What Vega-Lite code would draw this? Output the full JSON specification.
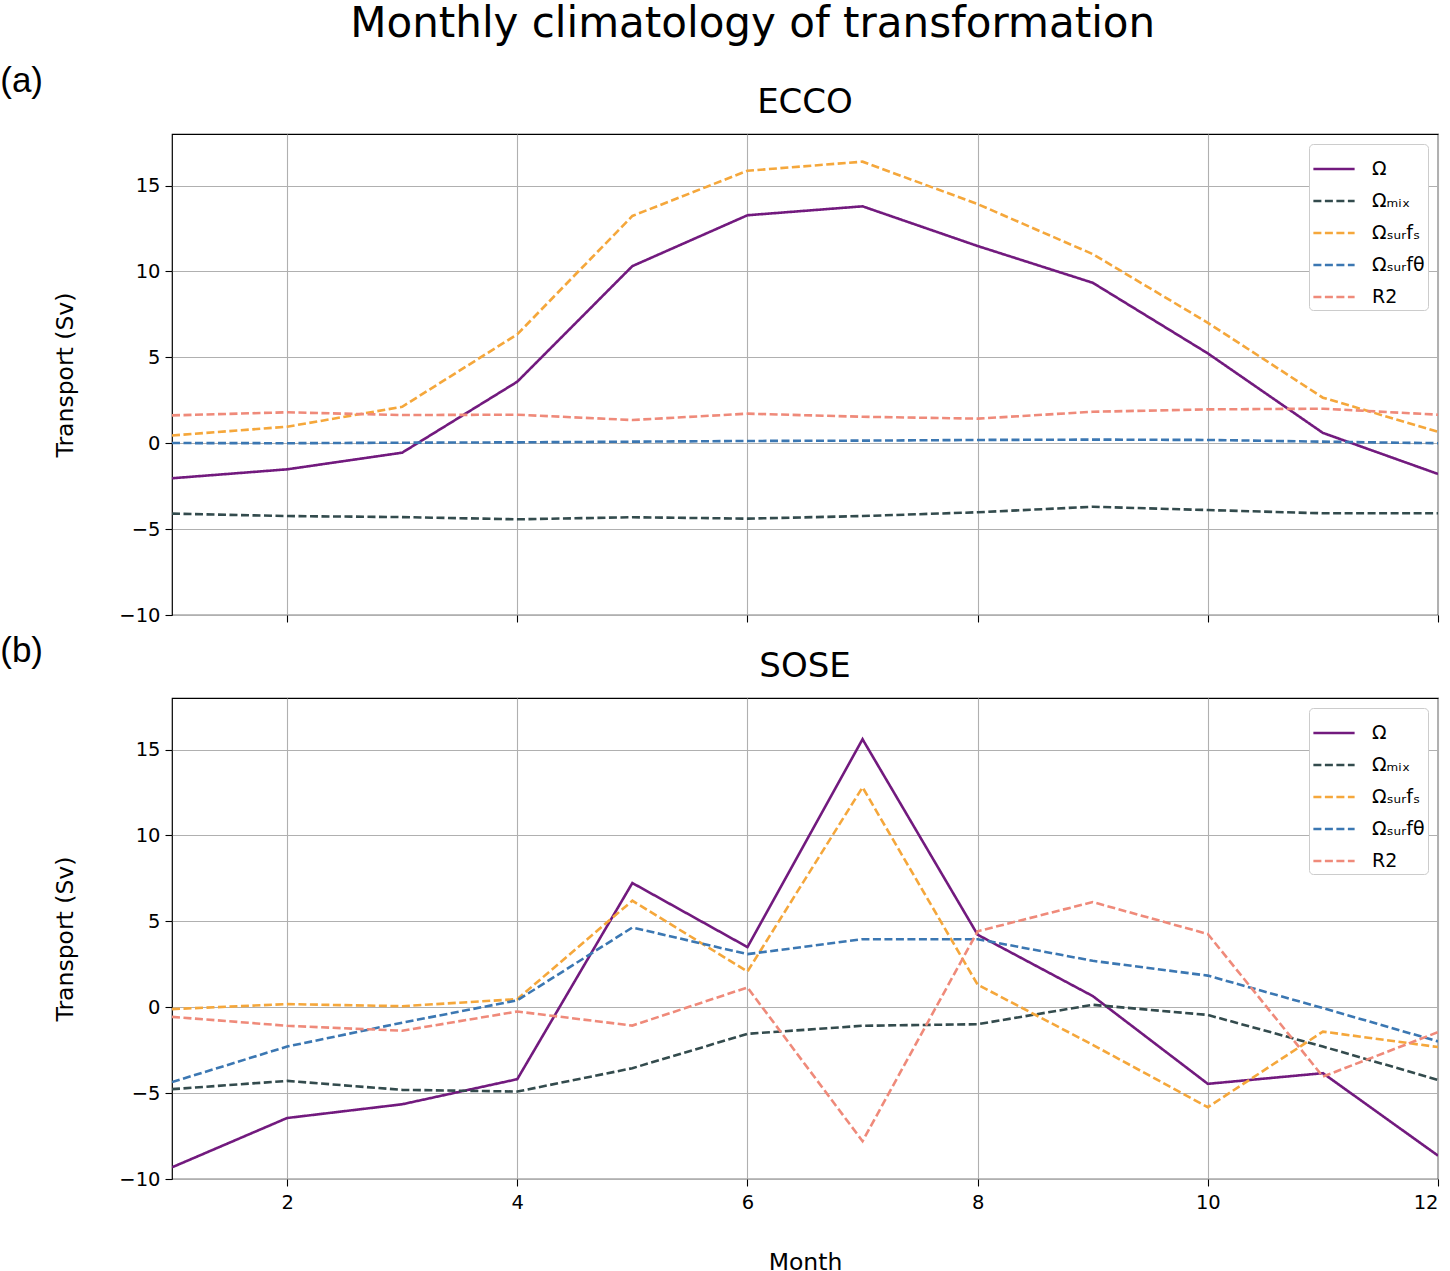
{
  "$schema": "https://vega.github.io/schema/vega-lite/v6.json",
  "padding": {"left": 0, "top": 3, "right": 5, "bottom": 0},
  "background": "white",
  "title": {"text": "Monthly climatology of transformation", "font": "DejaVu Sans", "fontSize": 42, "fontWeight": "normal", "color": "black", "anchor": "middle", "offset": 18, "dx": 33},
  "datasets": {
    "transport": [
      {"panel": "ECCO", "month": 1, "series": "Ω", "value": -2.04},
      {"panel": "ECCO", "month": 2, "series": "Ω", "value": -1.52},
      {"panel": "ECCO", "month": 3, "series": "Ω", "value": -0.55},
      {"panel": "ECCO", "month": 4, "series": "Ω", "value": 3.58},
      {"panel": "ECCO", "month": 5, "series": "Ω", "value": 10.31},
      {"panel": "ECCO", "month": 6, "series": "Ω", "value": 13.27},
      {"panel": "ECCO", "month": 7, "series": "Ω", "value": 13.79},
      {"panel": "ECCO", "month": 8, "series": "Ω", "value": 11.48},
      {"panel": "ECCO", "month": 9, "series": "Ω", "value": 9.34},
      {"panel": "ECCO", "month": 10, "series": "Ω", "value": 5.23},
      {"panel": "ECCO", "month": 11, "series": "Ω", "value": 0.6},
      {"panel": "ECCO", "month": 12, "series": "Ω", "value": -1.79},
      {"panel": "ECCO", "month": 1, "series": "Ωₘᵢₓ", "value": -4.1},
      {"panel": "ECCO", "month": 2, "series": "Ωₘᵢₓ", "value": -4.24},
      {"panel": "ECCO", "month": 3, "series": "Ωₘᵢₓ", "value": -4.3},
      {"panel": "ECCO", "month": 4, "series": "Ωₘᵢₓ", "value": -4.43},
      {"panel": "ECCO", "month": 5, "series": "Ωₘᵢₓ", "value": -4.31},
      {"panel": "ECCO", "month": 6, "series": "Ωₘᵢₓ", "value": -4.39},
      {"panel": "ECCO", "month": 7, "series": "Ωₘᵢₓ", "value": -4.24},
      {"panel": "ECCO", "month": 8, "series": "Ωₘᵢₓ", "value": -4.02},
      {"panel": "ECCO", "month": 9, "series": "Ωₘᵢₓ", "value": -3.7},
      {"panel": "ECCO", "month": 10, "series": "Ωₘᵢₓ", "value": -3.89},
      {"panel": "ECCO", "month": 11, "series": "Ωₘᵢₓ", "value": -4.08},
      {"panel": "ECCO", "month": 12, "series": "Ωₘᵢₓ", "value": -4.08},
      {"panel": "ECCO", "month": 1, "series": "Ωₛᵤᵣfₛ", "value": 0.45},
      {"panel": "ECCO", "month": 2, "series": "Ωₛᵤᵣfₛ", "value": 0.96},
      {"panel": "ECCO", "month": 3, "series": "Ωₛᵤᵣfₛ", "value": 2.12},
      {"panel": "ECCO", "month": 4, "series": "Ωₛᵤᵣfₛ", "value": 6.34},
      {"panel": "ECCO", "month": 5, "series": "Ωₛᵤᵣfₛ", "value": 13.23},
      {"panel": "ECCO", "month": 6, "series": "Ωₛᵤᵣfₛ", "value": 15.86},
      {"panel": "ECCO", "month": 7, "series": "Ωₛᵤᵣfₛ", "value": 16.39},
      {"panel": "ECCO", "month": 8, "series": "Ωₛᵤᵣfₛ", "value": 13.92},
      {"panel": "ECCO", "month": 9, "series": "Ωₛᵤᵣfₛ", "value": 11.01},
      {"panel": "ECCO", "month": 10, "series": "Ωₛᵤᵣfₛ", "value": 7.01},
      {"panel": "ECCO", "month": 11, "series": "Ωₛᵤᵣfₛ", "value": 2.65},
      {"panel": "ECCO", "month": 12, "series": "Ωₛᵤᵣfₛ", "value": 0.67},
      {"panel": "ECCO", "month": 1, "series": "Ωₛᵤᵣfθ", "value": 0.01},
      {"panel": "ECCO", "month": 2, "series": "Ωₛᵤᵣfθ", "value": 0.0},
      {"panel": "ECCO", "month": 3, "series": "Ωₛᵤᵣfθ", "value": 0.03},
      {"panel": "ECCO", "month": 4, "series": "Ωₛᵤᵣfθ", "value": 0.05},
      {"panel": "ECCO", "month": 5, "series": "Ωₛᵤᵣfθ", "value": 0.09},
      {"panel": "ECCO", "month": 6, "series": "Ωₛᵤᵣfθ", "value": 0.13},
      {"panel": "ECCO", "month": 7, "series": "Ωₛᵤᵣfθ", "value": 0.15},
      {"panel": "ECCO", "month": 8, "series": "Ωₛᵤᵣfθ", "value": 0.19},
      {"panel": "ECCO", "month": 9, "series": "Ωₛᵤᵣfθ", "value": 0.21},
      {"panel": "ECCO", "month": 10, "series": "Ωₛᵤᵣfθ", "value": 0.19},
      {"panel": "ECCO", "month": 11, "series": "Ωₛᵤᵣfθ", "value": 0.09},
      {"panel": "ECCO", "month": 12, "series": "Ωₛᵤᵣfθ", "value": 0.0},
      {"panel": "ECCO", "month": 1, "series": "R2", "value": 1.62},
      {"panel": "ECCO", "month": 2, "series": "R2", "value": 1.8},
      {"panel": "ECCO", "month": 3, "series": "R2", "value": 1.64},
      {"panel": "ECCO", "month": 4, "series": "R2", "value": 1.66},
      {"panel": "ECCO", "month": 5, "series": "R2", "value": 1.35},
      {"panel": "ECCO", "month": 6, "series": "R2", "value": 1.72},
      {"panel": "ECCO", "month": 7, "series": "R2", "value": 1.54},
      {"panel": "ECCO", "month": 8, "series": "R2", "value": 1.43},
      {"panel": "ECCO", "month": 9, "series": "R2", "value": 1.83},
      {"panel": "ECCO", "month": 10, "series": "R2", "value": 1.97},
      {"panel": "ECCO", "month": 11, "series": "R2", "value": 2.01},
      {"panel": "ECCO", "month": 12, "series": "R2", "value": 1.66},
      {"panel": "SOSE", "month": 1, "series": "Ω", "value": -9.32},
      {"panel": "SOSE", "month": 2, "series": "Ω", "value": -6.45},
      {"panel": "SOSE", "month": 3, "series": "Ω", "value": -5.65},
      {"panel": "SOSE", "month": 4, "series": "Ω", "value": -4.19},
      {"panel": "SOSE", "month": 5, "series": "Ω", "value": 7.23},
      {"panel": "SOSE", "month": 6, "series": "Ω", "value": 3.5},
      {"panel": "SOSE", "month": 7, "series": "Ω", "value": 15.6},
      {"panel": "SOSE", "month": 8, "series": "Ω", "value": 4.22},
      {"panel": "SOSE", "month": 9, "series": "Ω", "value": 0.65},
      {"panel": "SOSE", "month": 10, "series": "Ω", "value": -4.46},
      {"panel": "SOSE", "month": 11, "series": "Ω", "value": -3.84},
      {"panel": "SOSE", "month": 12, "series": "Ω", "value": -8.64},
      {"panel": "SOSE", "month": 1, "series": "Ωₘᵢₓ", "value": -4.77},
      {"panel": "SOSE", "month": 2, "series": "Ωₘᵢₓ", "value": -4.29},
      {"panel": "SOSE", "month": 3, "series": "Ωₘᵢₓ", "value": -4.81},
      {"panel": "SOSE", "month": 4, "series": "Ωₘᵢₓ", "value": -4.91},
      {"panel": "SOSE", "month": 5, "series": "Ωₘᵢₓ", "value": -3.55},
      {"panel": "SOSE", "month": 6, "series": "Ωₘᵢₓ", "value": -1.55},
      {"panel": "SOSE", "month": 7, "series": "Ωₘᵢₓ", "value": -1.08},
      {"panel": "SOSE", "month": 8, "series": "Ωₘᵢₓ", "value": -0.99},
      {"panel": "SOSE", "month": 9, "series": "Ωₘᵢₓ", "value": 0.14},
      {"panel": "SOSE", "month": 10, "series": "Ωₘᵢₓ", "value": -0.45},
      {"panel": "SOSE", "month": 11, "series": "Ωₘᵢₓ", "value": -2.29},
      {"panel": "SOSE", "month": 12, "series": "Ωₘᵢₓ", "value": -4.23},
      {"panel": "SOSE", "month": 1, "series": "Ωₛᵤᵣfₛ", "value": -0.11},
      {"panel": "SOSE", "month": 2, "series": "Ωₛᵤᵣfₛ", "value": 0.18},
      {"panel": "SOSE", "month": 3, "series": "Ωₛᵤᵣfₛ", "value": 0.06},
      {"panel": "SOSE", "month": 4, "series": "Ωₛᵤᵣfₛ", "value": 0.47},
      {"panel": "SOSE", "month": 5, "series": "Ωₛᵤᵣfₛ", "value": 6.2},
      {"panel": "SOSE", "month": 6, "series": "Ωₛᵤᵣfₛ", "value": 2.08},
      {"panel": "SOSE", "month": 7, "series": "Ωₛᵤᵣfₛ", "value": 12.8},
      {"panel": "SOSE", "month": 8, "series": "Ωₛᵤᵣfₛ", "value": 1.31},
      {"panel": "SOSE", "month": 9, "series": "Ωₛᵤᵣfₛ", "value": -2.19},
      {"panel": "SOSE", "month": 10, "series": "Ωₛᵤᵣfₛ", "value": -5.82},
      {"panel": "SOSE", "month": 11, "series": "Ωₛᵤᵣfₛ", "value": -1.42},
      {"panel": "SOSE", "month": 12, "series": "Ωₛᵤᵣfₛ", "value": -2.32},
      {"panel": "SOSE", "month": 1, "series": "Ωₛᵤᵣfθ", "value": -4.36},
      {"panel": "SOSE", "month": 2, "series": "Ωₛᵤᵣfθ", "value": -2.29},
      {"panel": "SOSE", "month": 3, "series": "Ωₛᵤᵣfθ", "value": -0.9},
      {"panel": "SOSE", "month": 4, "series": "Ωₛᵤᵣfθ", "value": 0.4},
      {"panel": "SOSE", "month": 5, "series": "Ωₛᵤᵣfθ", "value": 4.64},
      {"panel": "SOSE", "month": 6, "series": "Ωₛᵤᵣfθ", "value": 3.09},
      {"panel": "SOSE", "month": 7, "series": "Ωₛᵤᵣfθ", "value": 3.96},
      {"panel": "SOSE", "month": 8, "series": "Ωₛᵤᵣfθ", "value": 3.96},
      {"panel": "SOSE", "month": 9, "series": "Ωₛᵤᵣfθ", "value": 2.7},
      {"panel": "SOSE", "month": 10, "series": "Ωₛᵤᵣfθ", "value": 1.84},
      {"panel": "SOSE", "month": 11, "series": "Ωₛᵤᵣfθ", "value": -0.05},
      {"panel": "SOSE", "month": 12, "series": "Ωₛᵤᵣfθ", "value": -1.99},
      {"panel": "SOSE", "month": 1, "series": "R2", "value": -0.56},
      {"panel": "SOSE", "month": 2, "series": "R2", "value": -1.08},
      {"panel": "SOSE", "month": 3, "series": "R2", "value": -1.37},
      {"panel": "SOSE", "month": 4, "series": "R2", "value": -0.25},
      {"panel": "SOSE", "month": 5, "series": "R2", "value": -1.07},
      {"panel": "SOSE", "month": 6, "series": "R2", "value": 1.15},
      {"panel": "SOSE", "month": 7, "series": "R2", "value": -7.8},
      {"panel": "SOSE", "month": 8, "series": "R2", "value": 4.42},
      {"panel": "SOSE", "month": 9, "series": "R2", "value": 6.12},
      {"panel": "SOSE", "month": 10, "series": "R2", "value": 4.26},
      {"panel": "SOSE", "month": 11, "series": "R2", "value": -4.04},
      {"panel": "SOSE", "month": 12, "series": "R2", "value": -1.45}
    ]
  },
  "spacing": 8,
  "vconcat": [
    {
      "title": {"text": "(a)", "font": "Liberation Sans", "fontSize": 35, "fontWeight": "normal", "color": "black", "anchor": "start", "dx": -53, "offset": -14},
      "resolve": {"scale": {"color": "independent", "strokeDash": "independent"}, "legend": {"color": "independent", "strokeDash": "independent"}},
      "vconcat": [
        {
          "data": {"name": "transport"},
          "transform": [{"filter": "datum.panel === 'ECCO'"}],
          "title": {"text": "ECCO", "font": "DejaVu Sans", "fontSize": 34, "fontWeight": "normal", "color": "black", "anchor": "middle", "offset": 14},
          "width": 1266,
          "height": 481,
          "mark": {"type": "line", "strokeWidth": 2.6, "clip": true},
          "encoding": {
            "x": {"field": "month", "type": "quantitative", "scale": {"domain": [1, 12], "nice": false, "zero": false},
                  "axis": {"values": [2, 4, 6, 8, 10, 12], "labels": false, "title": null}},
            "y": {"field": "value", "type": "quantitative", "scale": {"domain": [-10, 18], "nice": false, "zero": false},
                  "axis": {"values": [-10, -5, 0, 5, 10, 15], "title": "Transport (Sv)"}},
            "color": {"field": "series", "type": "nominal",
                      "scale": {"domain": ["Ω", "Ωₘᵢₓ", "Ωₛᵤᵣfₛ", "Ωₛᵤᵣfθ", "R2"], "range": ["#721a7e", "#334b4d", "#f5a73b", "#3b77b2", "#ef8a7a"]},
                      "legend": {"title": null, "orient": "top-right"}},
            "strokeDash": {"field": "series", "type": "nominal",
                      "scale": {"domain": ["Ω", "Ωₘᵢₓ", "Ωₛᵤᵣfₛ", "Ωₛᵤᵣfθ", "R2"], "range": [[1, 0], [8, 3.5], [8, 3.5], [8, 3.5], [8, 3.5]]},
                      "legend": {"title": null, "orient": "top-right"}}
          }
        }
      ]
    },
    {
      "title": {"text": "(b)", "font": "Liberation Sans", "fontSize": 35, "fontWeight": "normal", "color": "black", "anchor": "start", "dx": -53, "offset": -20},
      "resolve": {"scale": {"color": "independent", "strokeDash": "independent"}, "legend": {"color": "independent", "strokeDash": "independent"}},
      "vconcat": [
        {
          "data": {"name": "transport"},
          "transform": [{"filter": "datum.panel === 'SOSE'"}],
          "title": {"text": "SOSE", "font": "DejaVu Sans", "fontSize": 34, "fontWeight": "normal", "color": "black", "anchor": "middle", "offset": 14},
          "width": 1266,
          "height": 481,
          "mark": {"type": "line", "strokeWidth": 2.6, "clip": true},
          "encoding": {
            "x": {"field": "month", "type": "quantitative", "scale": {"domain": [1, 12], "nice": false, "zero": false},
                  "axis": {"values": [2, 4, 6, 8, 10, 12], "title": "Month", "titlePadding": 39}},
            "y": {"field": "value", "type": "quantitative", "scale": {"domain": [-10, 18], "nice": false, "zero": false},
                  "axis": {"values": [-10, -5, 0, 5, 10, 15], "title": "Transport (Sv)"}},
            "color": {"field": "series", "type": "nominal",
                      "scale": {"domain": ["Ω", "Ωₘᵢₓ", "Ωₛᵤᵣfₛ", "Ωₛᵤᵣfθ", "R2"], "range": ["#721a7e", "#334b4d", "#f5a73b", "#3b77b2", "#ef8a7a"]},
                      "legend": {"title": null, "orient": "top-right"}},
            "strokeDash": {"field": "series", "type": "nominal",
                      "scale": {"domain": ["Ω", "Ωₘᵢₓ", "Ωₛᵤᵣfₛ", "Ωₛᵤᵣfθ", "R2"], "range": [[1, 0], [8, 3.5], [8, 3.5], [8, 3.5], [8, 3.5]]},
                      "legend": {"title": null, "orient": "top-right"}}
          }
        }
      ]
    }
  ],
  "resolve": {"scale": {"color": "independent", "strokeDash": "independent"}, "legend": {"color": "independent", "strokeDash": "independent"}},
  "config": {
    "font": "DejaVu Sans",
    "view": {"stroke": "black", "strokeWidth": 1.2},
    "axis": {
      "domain": false,
      "grid": true, "gridColor": "#b0b0b0", "gridWidth": 1.1,
      "ticks": true, "tickColor": "black", "tickSize": 7, "tickWidth": 1.1,
      "labelFont": "DejaVu Sans", "labelFontSize": 19.5, "labelColor": "black", "labelPadding": 7,
      "titleFont": "DejaVu Sans", "titleFontSize": 23.5, "titleFontWeight": "normal", "titleColor": "black"
    },
    "axisY": {"titlePadding": 41, "labelPadding": 5},
    "legend": {
      "orient": "top-right", "offset": 10, "padding": 3,
      "fillColor": "white", "strokeColor": "#cccccc", "cornerRadius": 4,
      "labelFont": "DejaVu Sans", "labelFontSize": 19, "labelColor": "black", "labelOffset": 16,
      "symbolType": "stroke", "symbolSize": 1700, "symbolStrokeWidth": 2.6, "rowPadding": -2
    }
  }
}
